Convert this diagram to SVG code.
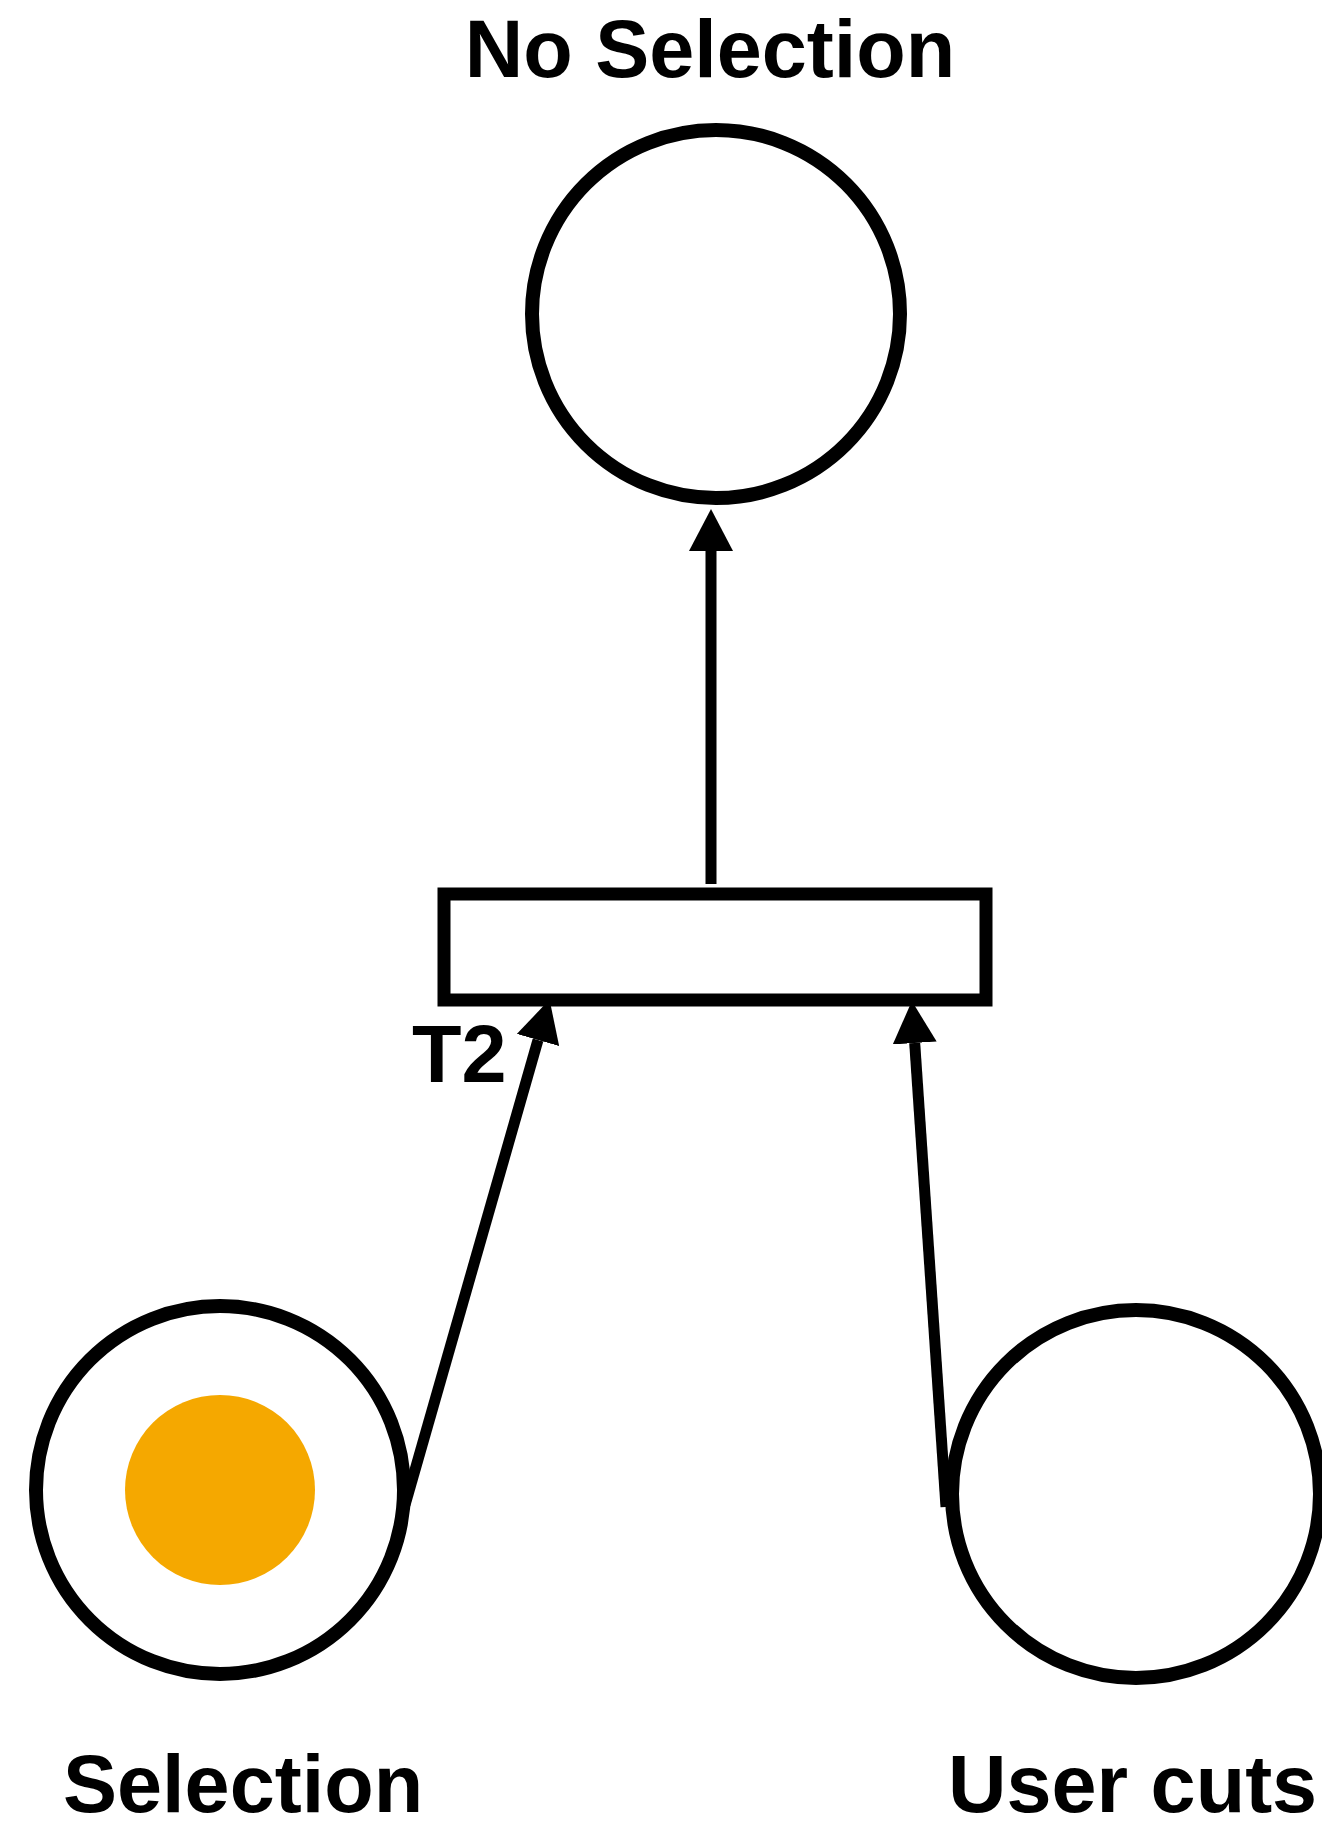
<svg xmlns="http://www.w3.org/2000/svg" width="1322" height="1829" viewBox="0 0 1322 1829">
  <style>
    .place { fill: #FFFFFF; stroke: #000000; stroke-width: 14; }
    .trans { fill: #FFFFFF; stroke: #000000; stroke-width: 13; }
    .token { fill: #F5A800; stroke: none; }
    .arc { fill: none; stroke: #000000; stroke-width: 11; stroke-linecap: butt; }
    .lbl { font-family: "Liberation Sans", Arial, Helvetica, sans-serif; font-weight: bold; font-size: 81px; fill: #000000; }
  </style>
  <defs>
    <marker id="arrow" markerUnits="userSpaceOnUse" markerWidth="42" markerHeight="44" refX="0" refY="22" orient="auto" viewBox="0 0 42 44">
      <path d="M0,0 L42,22 L0,44 Z" fill="#000000"/>
    </marker>
  </defs>
  <rect x="0" y="0" width="1322" height="1829" fill="#FFFFFF"/>

  <g id="place-no-selection">
    <circle class="place" cx="716" cy="314" r="184"/>
    <text class="lbl" x="710" y="77" text-anchor="middle">No Selection</text>
  </g>

  <g id="transition-t2">
    <rect class="trans" x="444" y="894" width="542" height="106"/>
    <text class="lbl" x="412" y="1082">T2</text>
  </g>

  <g id="place-selection">
    <circle class="place" cx="220" cy="1490" r="184"/>
    <circle class="token" cx="220" cy="1490" r="95"/>
    <text class="lbl" x="63" y="1812">Selection</text>
  </g>

  <g id="place-user-cuts">
    <circle class="place" cx="1136" cy="1494" r="184"/>
    <text class="lbl" x="948" y="1812">User cuts</text>
  </g>

  <g id="connectors">
    <line class="arc" x1="711" y1="884" x2="711" y2="551" marker-end="url(#arrow)"/>
    <line class="arc" x1="405" y1="1505" x2="538" y2="1040" marker-end="url(#arrow)"/>
    <line class="arc" x1="946" y1="1507" x2="914.7" y2="1043" marker-end="url(#arrow)"/>
  </g>
</svg>
